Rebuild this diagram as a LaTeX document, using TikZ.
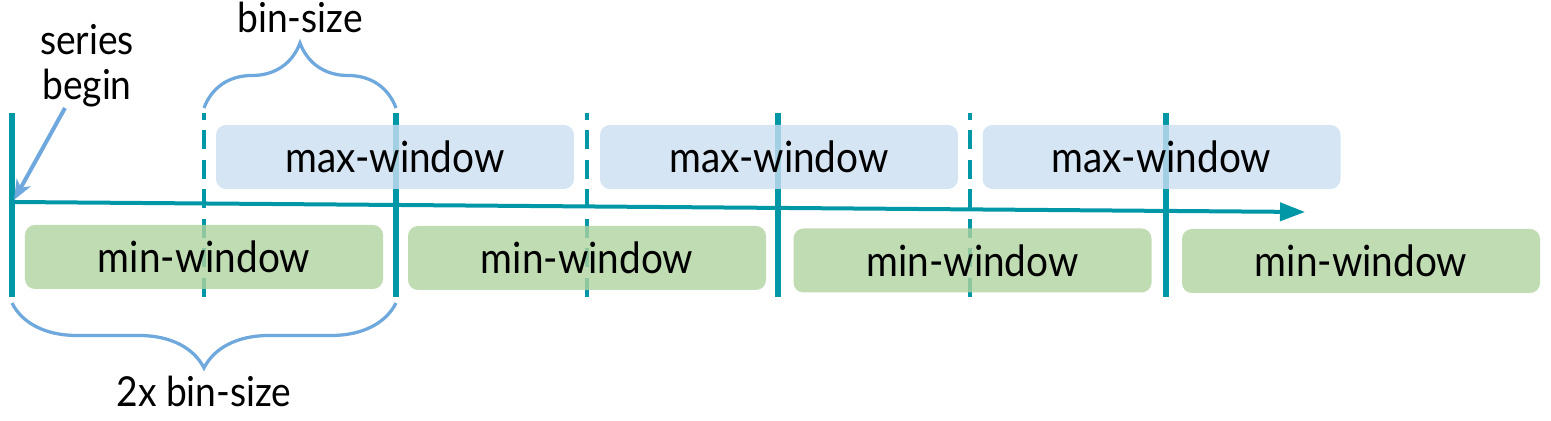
\documentclass[tikz,border=0pt]{standalone}
\usepackage{fontspec}
\setmainfont[FakeStretch=0.9]{Lato}
\usepackage{tikz}
\usetikzlibrary{arrows.meta,decorations.pathreplacing}
\definecolor{axisteal}{RGB}{0,151,167}
\definecolor{maxblue}{RGB}{204,222,241}
\definecolor{mingreen}{RGB}{176,211,159}
\definecolor{bracecol}{RGB}{111,168,220}

\begin{document}
\begin{tikzpicture}[x=0.2mm, y=0.2mm,
		bound/.style={draw=axisteal, line width=1.15mm},
		half/.style={draw=axisteal, line width=0.85mm, dash pattern=on 3.8mm off 2.1mm},
		win/.style={rounded corners=2mm, minimum width=71.6mm, minimum height=12.8mm, inner sep=0pt, fill opacity=0.8, text opacity=1, font=\fontsize{24.5}{29}\selectfont},
		maxwin/.style={win, fill=maxblue},
		minwin/.style={win, fill=mingreen},
		brc/.style={draw=bracecol, line width=0.65mm, decorate, decoration={brace, amplitude=13mm}},
		note/.style={font=\fontsize{23.5}{27}\selectfont, align=center}]
	\useasboundingbox (0,0) rectangle (1551,421);
	% bin borders
	\foreach \x [count=\i] in {12,396,778,1166}
		\draw[bound] (\x,124) coordinate (s\i bot) -- (\x,308) coordinate (s\i top);
	\foreach \x [count=\i] in {204,587,970}
		\draw[half] (\x,124) coordinate (d\i bot) -- (\x,308) coordinate (d\i top);
	% windows
	\node[maxwin] (max1) at (395,264) {max-window};
	\node[maxwin] (max2) at (779,264) {max-window};
	\node[maxwin] (max3) at (1161.5,264) {max-window};
	\node[minwin] (min1) at (204,164) {min-window};
	\node[minwin] (min2) at (587,163) {min-window};
	\node[minwin] (min3) at (972.5,160.5) {min-window};
	\node[minwin] (min4) at (1361,160) {min-window};
	% time axis
	\coordinate (ax0) at (12,219);
	\coordinate (ax1) at (1305,209);
	\draw[axisteal, line width=0.8mm, -{Triangle[length=5mm, width=3.6mm]}] (ax0) -- (ax1);
	% braces
	\draw[brc] ([yshift=1mm]d1top) -- ([yshift=1mm]s2top);
	\draw[brc] ([yshift=-1.2mm]s2bot) -- ([yshift=-1.2mm]s1bot);
	\node[note, anchor=base] (binsize) at (300,388) {bin-size};
	\node[note, anchor=base] (twobin) at (204,14) {2x bin-size};
	\node[note, anchor=base] (begin) at (87,321) {series\\[-1pt]begin};
	\coordinate (sbtail) at (65,313);
	\coordinate (sbtip) at (14,221);
	\draw[bracecol, line width=0.8mm, -{Stealth[length=4mm, width=3.2mm, inset=1.2mm]}] (sbtail) -- (sbtip);
\end{tikzpicture}
\end{document}
